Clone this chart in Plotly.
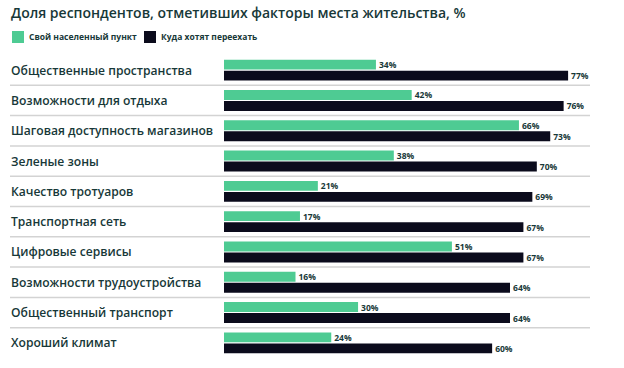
import plotly.graph_objects as go

categories = ["Общественные пространства", "Возможности для отдыха", "Шаговая доступность магазинов",
              "Зеленые зоны", "Качество тротуаров", "Транспортная сеть", "Цифровые сервисы",
              "Возможности трудоустройства", "Общественный транспорт", "Хороший климат"]
own = [34, 42, 66, 38, 21, 17, 51, 16, 30, 24]
move = [77, 76, 73, 70, 69, 67, 67, 64, 64, 60]
series_names = ["Свой населенный пункт", "Куда хотят переехать"]
title_text = "Доля респондентов, отметивших факторы места жительства, %"

GREEN = "#4ecb93"
DARK = "#0b0b1c"
TXT = "#173838"
FONT = "Open Sans"
W, H = 624, 368
TOP = 55
PH = 303


def px(x):
    return x / W


fig = go.Figure()
for name, vals, col in [(series_names[0], own, GREEN), (series_names[1], move, DARK)]:
    fig.add_trace(go.Bar(
        y=categories, x=vals, orientation="h", name=name, marker=dict(color=col, line=dict(width=0)),
        text=[f"{v}%" for v in vals], textposition="outside", cliponaxis=False,
        textfont=dict(size=8.5, color=TXT, family=FONT, weight="bold"), showlegend=False))

shapes = []
for i in range(len(categories) - 1):
    shapes.append(dict(type="line", xref="paper", yref="y", x0=px(10), x1=px(590),
                       y0=i + 0.5, y1=i + 0.5, line=dict(color="#d3d3d3", width=1.5), layer="below"))

annotations = []
for i, c in enumerate(categories):
    annotations.append(dict(text=c, xref="paper", yref="y", x=px(9), y=i, xanchor="left",
                            yanchor="middle", showarrow=False,
                            font=dict(size=12.1, color=TXT, family=FONT, weight=600)))

# legend (manual)
leg = [(12, series_names[0], GREEN), (144, series_names[1], DARK)]
for x0, name, col in leg:
    shapes.append(dict(type="rect", xref="paper", yref="paper", x0=px(x0), x1=px(x0 + 12),
                       y0=1 + (TOP - 43) / PH, y1=1 + (TOP - 31) / PH, fillcolor=col,
                       line=dict(width=0)))
    annotations.append(dict(text=name, xref="paper", yref="paper", x=px(x0 + 15),
                            y=1 + (TOP - 37) / PH, xanchor="left", yanchor="middle", showarrow=False,
                            font=dict(size=8.5, color=TXT, family=FONT, weight="bold")))

# title as annotation
annotations.append(dict(text=title_text, xref="paper", yref="paper", x=px(9), y=1 + (TOP - 12.5) / PH,
                        xanchor="left", yanchor="middle", showarrow=False,
                        font=dict(size=14, color=TXT, family=FONT, weight=600)))

fig.update_layout(
    width=W, height=H, margin=dict(l=0, r=0, t=TOP, b=H - TOP - PH),
    paper_bgcolor="white", plot_bgcolor="white",
    barmode="group", bargap=0.275, bargroupgap=0.1,
    xaxis=dict(domain=[px(224), px(590)], range=[0, 81.9], visible=False),
    yaxis=dict(autorange="reversed", showticklabels=False, showgrid=False, zeroline=False),
    shapes=shapes, annotations=annotations,
    uniformtext=dict(minsize=8, mode="show"),
)
fig.write_html("out.html", config={"displayModeBar": False},
               post_script="document.body.style.margin='0';")
